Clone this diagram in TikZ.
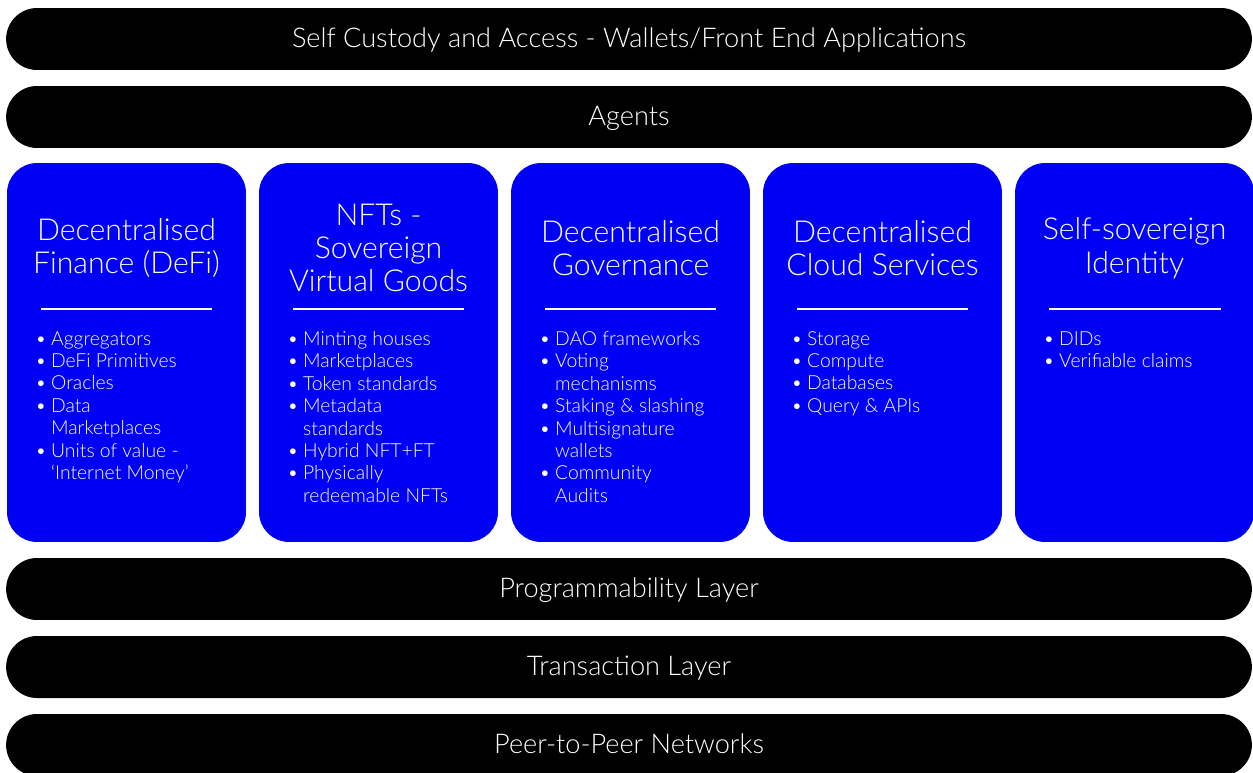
\documentclass[tikz,border=0pt]{standalone}
\usepackage{fontspec}
\IfFontExistsTF{Lato Light}{\setmainfont{Lato Light}}{\setmainfont{Lato}}
\usepackage{tikz}
\usetikzlibrary{positioning}
\definecolor{colblue}{HTML}{0000F5}
\newcommand{\bitem}[1]{\makebox[9pt][l]{\textbullet}#1}
\newcommand{\bcont}[1]{\hspace*{9pt}#1}

\begin{document}
\begin{tikzpicture}[x=0.02cm,y=-0.02cm,
                bar/.style={fill=black,text=white,
                    minimum width=24.92cm,
                    minimum height=1.24cm,
                    rounded corners=0.62cm,
                    font=\fontsize{15.45}{18}\selectfont,
                    text height=11pt,text depth=1pt,
                    rectangle,inner sep=0pt},
                col/.style={fill=colblue,
                    minimum width=4.78cm,
                    minimum height=7.58cm,
                    rounded corners=0.6cm,
                    rectangle,inner sep=0pt},
                ttl/.style={text=white,align=center,
                    font=\fontsize{17.2}{19}\selectfont},
                lst/.style={text=white,align=left,anchor=north west,inner sep=0pt,
                    font=\fontsize{11}{12.75}\selectfont},
                sep/.style={draw=white,line width=0.6pt}]
                \useasboundingbox (0,0) rectangle (1253,773);
                % layers
                \node[bar](n001) at (629,39) {Self Custody and Access - Wallets/Front End Applications};
                \node[bar](n002) at (629,117) {Agents};
                \node[bar](n003) at (629,589) {Programmability Layer};
                \node[bar](n004) at (629,667) {Transaction Layer};
                \node[bar](n005) at (629,745) {Peer-to-Peer Networks};
                % columns
                \node[col](c001) at (126.5,352.5) {};
                \node[col](c002) at (378.5,352.5) {};
                \node[col](c003) at (630.5,352.5) {};
                \node[col](c004) at (882.5,352.5) {};
                \node[col](c005) at (1134.5,352.5) {};
                % titles
                \node[ttl](t001) at (126.5,248) {Decentralised\\Finance (DeFi)};
                \node[ttl](t002) at (378.5,248) {NFTs -\\Sovereign\\Virtual Goods};
                \node[ttl](t003) at (630.5,248) {Decentralised\\Governance};
                \node[ttl](t004) at (882.5,248) {Decentralised\\Cloud Services};
                \node[ttl](t005) at (1134.5,248) {Self-sovereign\\Identity};
                % separators
                \coordinate (s001) at (126.5,309);
                \coordinate (s002) at (378.5,309);
                \coordinate (s003) at (630.5,309);
                \coordinate (s004) at (882.5,309);
                \coordinate (s005) at (1134.5,309);
                \draw[sep] ([xshift=-1.72cm]s001) -- ([xshift=1.72cm]s001);
                \draw[sep] ([xshift=-1.72cm]s002) -- ([xshift=1.72cm]s002);
                \draw[sep] ([xshift=-1.72cm]s003) -- ([xshift=1.72cm]s003);
                \draw[sep] ([xshift=-1.72cm]s004) -- ([xshift=1.72cm]s004);
                \draw[sep] ([xshift=-1.72cm]s005) -- ([xshift=1.72cm]s005);
                % lists
                \node[lst](l001) at (35,331) {\bitem{Aggregators}\\\bitem{DeFi Primitives}\\\bitem{Oracles}\\\bitem{Data}\\\bcont{Marketplaces}\\\bitem{Units of value -}\\\bcont{‘Internet Money’}};
                \node[lst](l002) at (287,331) {\bitem{Minting houses}\\\bitem{Marketplaces}\\\bitem{Token standards}\\\bitem{Metadata}\\\bcont{standards}\\\bitem{Hybrid NFT+FT}\\\bitem{Physically}\\\bcont{redeemable NFTs}};
                \node[lst](l003) at (539,331) {\bitem{DAO frameworks}\\\bitem{Voting}\\\bcont{mechanisms}\\\bitem{Staking \& slashing}\\\bitem{Multisignature}\\\bcont{wallets}\\\bitem{Community}\\\bcont{Audits}};
                \node[lst](l004) at (791,331) {\bitem{Storage}\\\bitem{Compute}\\\bitem{Databases}\\\bitem{Query \& APIs}};
                \node[lst](l005) at (1043,331) {\bitem{DIDs}\\\bitem{Verifiable claims}};
            \end{tikzpicture}
\end{document}
